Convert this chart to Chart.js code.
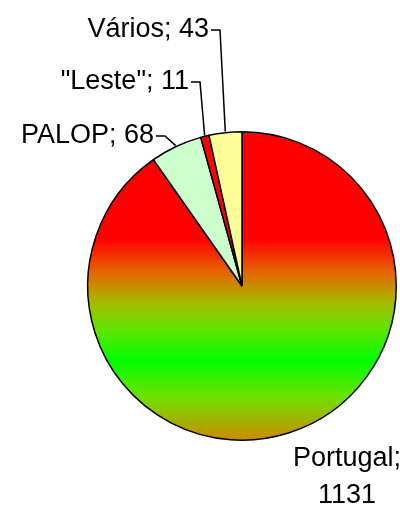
<!DOCTYPE html>
<html>
<head>
<meta charset="utf-8">
<script src="https://cdn.jsdelivr.net/npm/chart.js@4/dist/chart.umd.min.js"></script>
<style>
  html, body { margin: 0; padding: 0; background: #ffffff; }
  #wrap { width: 400px; height: 507px; position: relative; }
</style>
</head>
<body>
<div id="wrap"><canvas id="pie1" width="400" height="507"></canvas></div>
<script>
// data
const categories = ['Portugal', 'PALOP', '"Leste"', 'Vários'];
const values = [1131, 68, 11, 43];
const sliceColors = [null, '#ccffcc', '#ff0000', '#ffff99'];

// label boxes: elbow of the leader line (text sits left of it)
const leaderElbows = [null, [165, 136], [200, 82], [220, 30]];

function portugalGradient(chart) {
  const area = chart.chartArea;
  if (!area) return '#ff0000';
  const r = Math.min(area.right - area.left, area.bottom - area.top) / 2;
  const cy = (area.top + area.bottom) / 2;
  const g = chart.ctx.createLinearGradient(0, cy - r, 0, cy + r);
  g.addColorStop(0, '#ff0000');
  g.addColorStop(0.35, '#ff0000');
  g.addColorStop(0.45, '#e66000');
  g.addColorStop(0.55, '#a8b800');
  g.addColorStop(0.64, '#60e400');
  g.addColorStop(0.74, '#00ff00');
  g.addColorStop(0.86, '#70e000');
  g.addColorStop(1, '#d08800');
  return g;
}

// draws the "Name; value" labels with leader lines
const labelPlugin = {
  id: 'pieLabels',
  afterDatasetsDraw(chart) {
    const ctx = chart.ctx;
    const arcs = chart.getDatasetMeta(0).data;
    ctx.save();
    ctx.font = '27px "Liberation Sans", Arial, sans-serif';
    ctx.fillStyle = '#000';
    ctx.strokeStyle = '#000';
    ctx.lineWidth = 1.5;
    ctx.textBaseline = 'middle';
    arcs.forEach((arc, i) => {
      const text = categories[i] + '; ' + values[i];
      const mid = (arc.startAngle + arc.endAngle) / 2;
      if (i === 0) {
        // Portugal: two lines, bottom right, no leader
        ctx.textAlign = 'center';
        ctx.fillText(categories[i] + ';', 347, 459);
        ctx.fillText(String(values[i]), 347, 496);
        return;
      }
      const ax = arc.x + Math.cos(mid) * (arc.outerRadius + 1);
      const ay = arc.y + Math.sin(mid) * (arc.outerRadius + 1);
      const [ex, ey] = leaderElbows[i];
      ctx.beginPath();
      ctx.moveTo(ax, ay);
      ctx.lineTo(ex, ey);
      ctx.lineTo(ex - 9, ey);
      ctx.stroke();
      ctx.textAlign = 'right';
      ctx.fillText(text, ex - 11, ey);
    });
    ctx.restore();
  }
};

new Chart(document.getElementById('pie1'), {
  type: 'pie',
  data: {
    labels: categories,
    datasets: [{
      data: values,
      backgroundColor: (c) => c.dataIndex === 0 ? portugalGradient(c.chart) : sliceColors[c.dataIndex],
      borderColor: '#000000',
      borderWidth: 1.5,
      hoverOffset: 0,
      offset: 0
    }]
  },
  options: {
    responsive: false,
    animation: false,
    devicePixelRatio: 1,
    layout: { padding: { left: 87, right: 3, top: 131, bottom: 66 } },
    plugins: {
      legend: { display: false },
      tooltip: { enabled: false }
    }
  },
  plugins: [labelPlugin]
});
</script>
</body>
</html>
